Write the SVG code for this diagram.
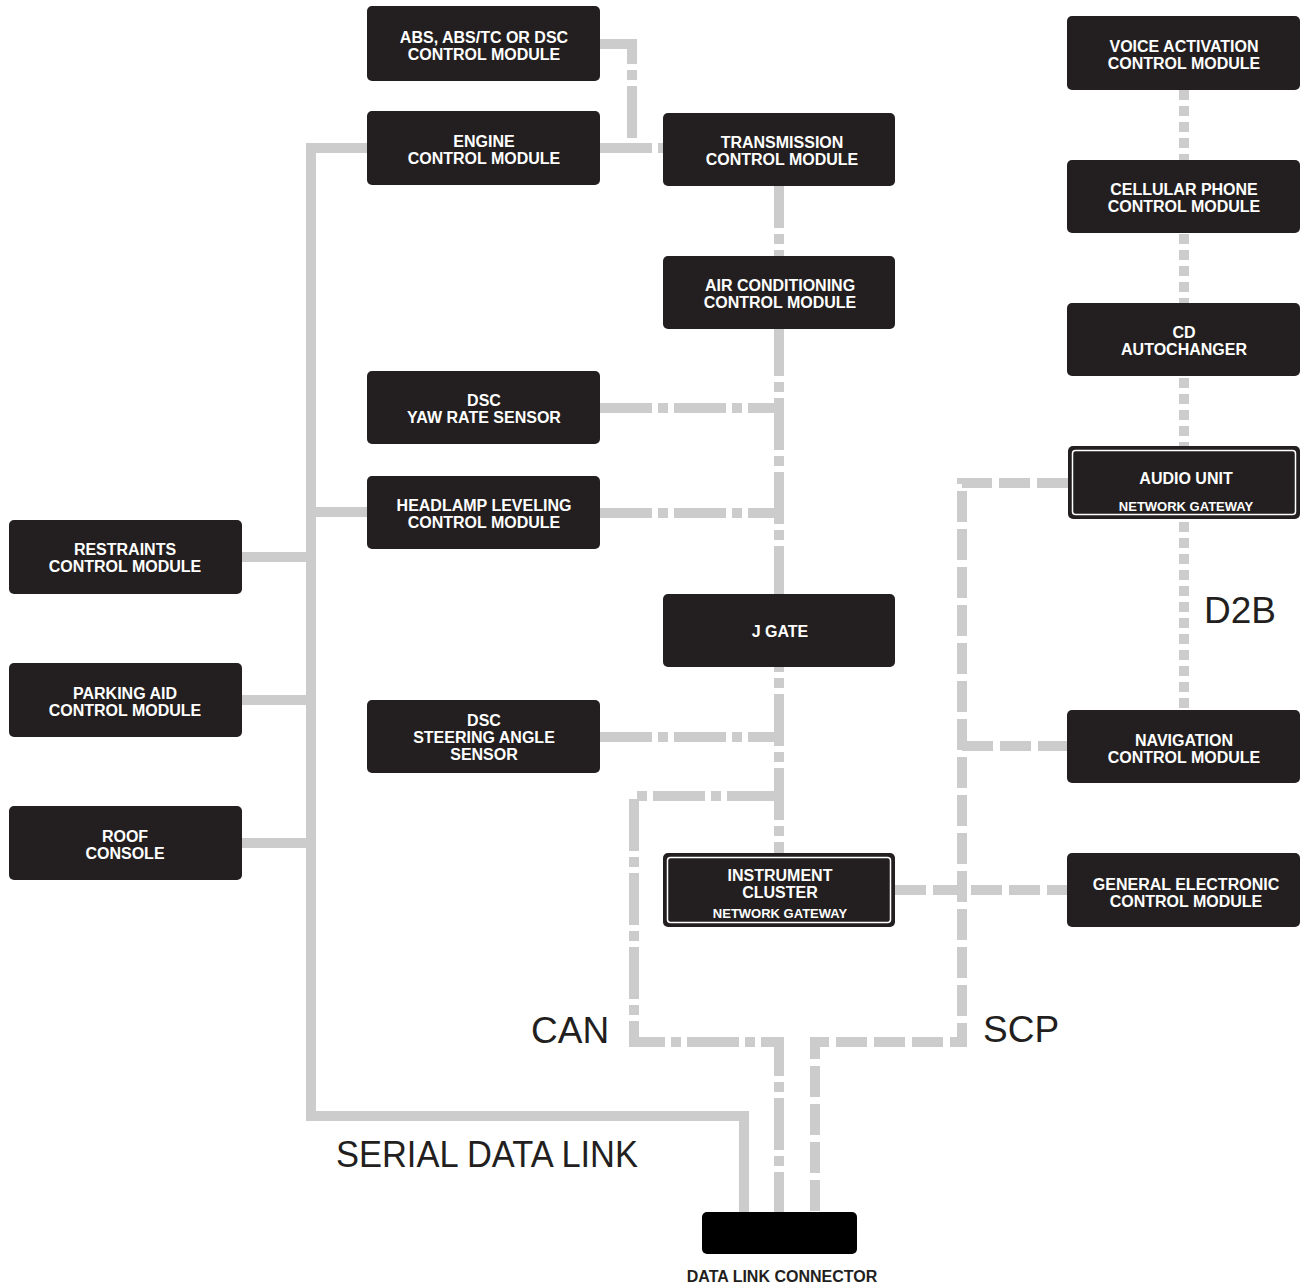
<svg xmlns="http://www.w3.org/2000/svg" width="1310" height="1288" viewBox="0 0 1310 1288">
<style>
.bg{fill:#ffffff}
.n{fill:#231f20}
.gw{fill:none;stroke:#ffffff;stroke-width:1.5}
.t{font-family:"Liberation Sans",Arial,sans-serif;font-weight:bold;font-size:16px;fill:#ffffff;text-anchor:middle}
.ts{font-size:13px}
.lbl{font-family:"Liberation Sans",Arial,sans-serif;font-size:37px;fill:#231f20}
.dl{font-family:"Liberation Sans",Arial,sans-serif;font-weight:bold;font-size:16px;fill:#231f20;text-anchor:middle}
.w{fill:none;stroke:#cccccc;stroke-width:10;stroke-linejoin:miter;stroke-linecap:butt}
.can{stroke-dasharray:52 6 10 6}
.scp{stroke-dasharray:31 7}
.d2b{stroke-dasharray:10 6}
</style>
<rect class="bg" x="0" y="0" width="1310" height="1288"/>
<g id="connectors">
  <!-- Serial data link -->
  <path class="w" d="M367,148 H311 V1116 H744 V1212"/>
  <path class="w" d="M311,512 H367"/>
  <path class="w" d="M242,557 H311"/>
  <path class="w" d="M242,700 H311"/>
  <path class="w" d="M242,843 H311"/>
  <!-- CAN -->
  <path class="w can" d="M600,44 H632 V148"/>
  <path class="w can" d="M600,148 H663"/>
  <path class="w can" style="stroke-dashoffset:10" d="M779,186 V853"/>
  <path class="w can" d="M600,408 H779"/>
  <path class="w can" d="M600,513 H779"/>
  <path class="w can" d="M600,737 H779"/>
  <path class="w can" d="M779,796 H634 V1042 H779 V1212"/>
  <!-- SCP -->
  <path class="w scp" d="M1068,483 H962 V1042 H815 V1212"/>
  <path class="w scp" d="M962,746 H1067"/>
  <path class="w scp" d="M895,890 H1067"/>
  <!-- D2B -->
  <path class="w d2b" d="M1184,90 V710"/>
</g>
<g id="abs"><rect class="n" x="367" y="6" width="233" height="75" rx="5"/><text class="t" x="484" y="43">ABS, ABS/TC OR DSC</text><text class="t" x="484" y="60">CONTROL MODULE</text></g>
<g id="ecm"><rect class="n" x="367" y="111" width="233" height="74" rx="5"/><text class="t" x="484" y="147">ENGINE</text><text class="t" x="484" y="164">CONTROL MODULE</text></g>
<g id="tcm"><rect class="n" x="663" y="113" width="232" height="73" rx="5"/><text class="t" x="782" y="148">TRANSMISSION</text><text class="t" x="782" y="165">CONTROL MODULE</text></g>
<g id="ac"><rect class="n" x="663" y="256" width="232" height="73" rx="5"/><text class="t" x="780" y="291">AIR CONDITIONING</text><text class="t" x="780" y="308">CONTROL MODULE</text></g>
<g id="yaw"><rect class="n" x="367" y="371" width="233" height="73" rx="5"/><text class="t" x="484" y="406">DSC</text><text class="t" x="484" y="423">YAW RATE SENSOR</text></g>
<g id="headlamp"><rect class="n" x="367" y="476" width="233" height="73" rx="5"/><text class="t" x="484" y="511">HEADLAMP LEVELING</text><text class="t" x="484" y="528">CONTROL MODULE</text></g>
<g id="jgate"><rect class="n" x="663" y="594" width="232" height="73" rx="5"/><text class="t" x="780" y="637">J GATE</text></g>
<g id="steer"><rect class="n" x="367" y="700" width="233" height="73" rx="5"/><text class="t" x="484" y="726">DSC</text><text class="t" x="484" y="743">STEERING ANGLE</text><text class="t" x="484" y="760">SENSOR</text></g>
<g id="ic"><rect class="n" x="663" y="853" width="232" height="74" rx="5"/><rect class="gw" x="667.5" y="857.5" width="223" height="65" rx="3"/><text class="t" x="780" y="881">INSTRUMENT</text><text class="t" x="780" y="898">CLUSTER</text><text class="t ts" x="780" y="918">NETWORK GATEWAY</text></g>
<g id="rcm"><rect class="n" x="9" y="520" width="233" height="74" rx="5"/><text class="t" x="125" y="555">RESTRAINTS</text><text class="t" x="125" y="572">CONTROL MODULE</text></g>
<g id="pam"><rect class="n" x="9" y="663" width="233" height="74" rx="5"/><text class="t" x="125" y="699">PARKING AID</text><text class="t" x="125" y="716">CONTROL MODULE</text></g>
<g id="roof"><rect class="n" x="9" y="806" width="233" height="74" rx="5"/><text class="t" x="125" y="842">ROOF</text><text class="t" x="125" y="859">CONSOLE</text></g>
<g id="voice"><rect class="n" x="1067" y="16" width="233" height="74" rx="5"/><text class="t" x="1184" y="52">VOICE ACTIVATION</text><text class="t" x="1184" y="69">CONTROL MODULE</text></g>
<g id="cell"><rect class="n" x="1067" y="160" width="233" height="73" rx="5"/><text class="t" x="1184" y="195">CELLULAR PHONE</text><text class="t" x="1184" y="212">CONTROL MODULE</text></g>
<g id="cd"><rect class="n" x="1067" y="303" width="233" height="73" rx="5"/><text class="t" x="1184" y="338">CD</text><text class="t" x="1184" y="355">AUTOCHANGER</text></g>
<g id="audio"><rect class="n" x="1068" y="446" width="232" height="73" rx="5"/><rect class="gw" x="1072.5" y="450.5" width="223" height="64" rx="3"/><text class="t" x="1186" y="484">AUDIO UNIT</text><text class="t ts" x="1186" y="511">NETWORK GATEWAY</text></g>
<g id="nav"><rect class="n" x="1067" y="710" width="233" height="73" rx="5"/><text class="t" x="1184" y="746">NAVIGATION</text><text class="t" x="1184" y="763">CONTROL MODULE</text></g>
<g id="gem"><rect class="n" x="1067" y="853" width="233" height="74" rx="5"/><text class="t" x="1186" y="890">GENERAL ELECTRONIC</text><text class="t" x="1186" y="907">CONTROL MODULE</text></g>
<g id="dlc"><rect x="702" y="1212" width="155" height="42" rx="5" fill="#000000"/><text class="dl" x="782" y="1282">DATA LINK CONNECTOR</text></g>
<g id="labels">
  <text class="lbl" x="531" y="1043">CAN</text>
  <text class="lbl" x="983" y="1042">SCP</text>
  <text class="lbl" x="1204" y="623">D2B</text>
  <text class="lbl" x="336" y="1167" textLength="302" lengthAdjust="spacingAndGlyphs">SERIAL DATA LINK</text>
</g>
</svg>
